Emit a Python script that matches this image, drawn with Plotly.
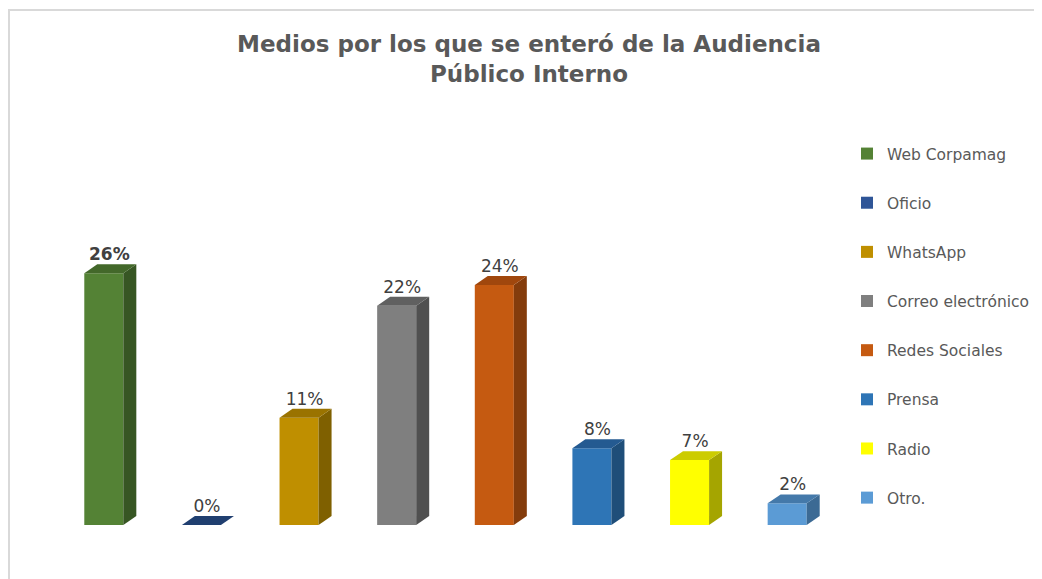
import plotly.graph_objects as go

categories = ["Web Corpamag", "Oficio", "WhatsApp", "Correo electrónico",
              "Redes Sociales", "Prensa", "Radio", "Otro."]
values = [25.6, 0.0, 10.9, 22.3, 24.4, 7.8, 6.6, 2.2]

front_colors = ["#548235", "#2F5597", "#BF8F00", "#7F7F7F", "#C55A11", "#2E75B6", "#FFFF00", "#5B9BD5"]
side_colors = ["#375623", "#1F3864", "#7F6000", "#505050", "#843C0C", "#1F4E79", "#A5A500", "#3C6A94"]
top_colors = ["#43682A", "#203F70", "#9A7300", "#606060", "#A0470D", "#245A91", "#CCCC00", "#4479AA"]

W = 0.40     # bar width (x units)
DX = 0.133   # depth offset in x units
DY = 0.91    # depth offset in y units

fig = go.Figure()
xs = list(range(len(categories)))

for i, (c, v) in enumerate(zip(categories, values)):
    fig.add_trace(go.Bar(
        x=[xs[i]], y=[v], width=W, name=c, marker=dict(color=front_colors[i], line=dict(width=0)),
        legendgroup=c, hoverinfo="name+y"))

for i, v in enumerate(values):
    x = xs[i]
    fig.add_trace(go.Scatter(
        x=[x + W/2, x + W/2 + DX, x + W/2 + DX, x + W/2, x + W/2],
        y=[0, DY, v + DY, v, 0], fill="toself", fillcolor=side_colors[i],
        mode="lines", line=dict(width=0, color=side_colors[i]), showlegend=False, hoverinfo="skip"))
    fig.add_trace(go.Scatter(
        x=[x - W/2, x + W/2, x + W/2 + DX, x - W/2 + DX, x - W/2],
        y=[v, v, v + DY, v + DY, v], fill="toself", fillcolor=top_colors[i],
        mode="lines", line=dict(width=0, color=top_colors[i]), showlegend=False, hoverinfo="skip"))

labels = [(f"<b>{round(v)}%</b>" if i == 0 else f"{round(v)}%") for i, v in enumerate(values)]
fig.add_trace(go.Scatter(
    x=[x + DX/2 - 0.01 for x in xs], y=[v + DY for v in values], mode="text", text=labels,
    textposition="top center", textfont=dict(family="DejaVu Sans", size=17, color="#404040"),
    showlegend=False, hoverinfo="skip", cliponaxis=False))

fig.update_layout(
    width=1042, height=579,
    paper_bgcolor="white", plot_bgcolor="white",
    margin=dict(l=47, r=214, t=222, b=62),
    barmode="overlay",
    showlegend=True,
    title=dict(text="Medios por los que se enteró de la Audiencia<br>Público Interno",
               x=521/1042, xanchor="center", xref="container",
               y=1 - 44/579, yanchor="top", yref="container",
               font=dict(family="DejaVu Sans", size=23, color="#595959", weight="bold")),
    legend=dict(xref="container", yref="container", x=839/1042, xanchor="left",
                y=1 - 129/579, yanchor="top", font=dict(family="DejaVu Sans", size=15.5, color="#595959"),
                tracegroupgap=26, maxheight=450, bgcolor="rgba(0,0,0,0)"),
    xaxis=dict(range=[-0.5, 7.5], visible=False, fixedrange=True),
    yaxis=dict(range=[0, 30], visible=False, fixedrange=True),
    shapes=[dict(type="rect", xref="paper", yref="paper",
                 x0=(1-47)/781, x1=(1060-47)/781, y0=(517-600)/295, y1=(517-2)/295,
                 line=dict(color="#D9D9D9", width=2), fillcolor="rgba(0,0,0,0)", layer="below")],
)

fig.write_html("out.html")
